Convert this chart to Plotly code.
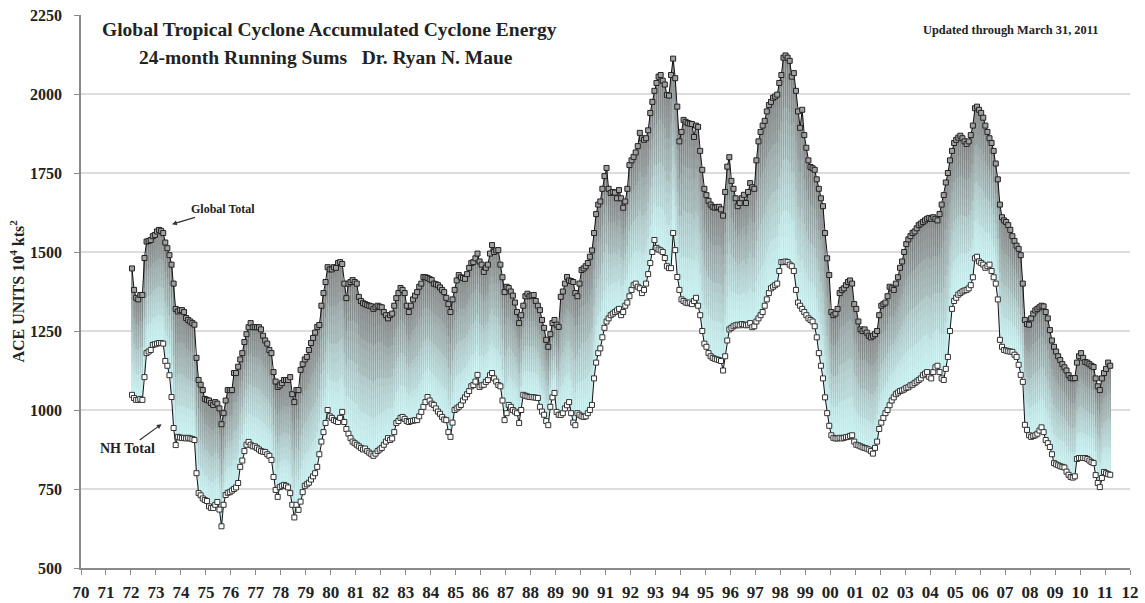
import plotly.graph_objects as go

# ---------------- data (monthly 24-month running sums, Jan 1972 .. Mar 2011) -------------
start_year = 1972

global_total = [
    # 1972
    1448, 1380, 1355, 1350, 1364, 1364, 1481, 1533, 1535, 1538, 1550, 1554,
    # 1973
    1565, 1570, 1567, 1560, 1530, 1512, 1490, 1460, 1400, 1320, 1312, 1316,
    # 1974
    1316, 1310, 1291, 1285, 1280, 1275, 1270, 1165, 1095, 1080, 1063, 1035,
    # 1975
    1032, 1030, 1022, 1016, 1025, 1020, 1005, 955, 990, 1030, 1063, 1063,
    # 1976
    1063, 1117, 1117, 1137, 1160, 1180, 1215, 1240, 1262, 1275, 1262, 1262,
    # 1977
    1262, 1262, 1255, 1235, 1220, 1210, 1190, 1180, 1120, 1090, 1073, 1078,
    # 1978
    1085, 1095, 1095, 1095, 1104, 1050, 1025, 1063, 1063, 1127, 1145, 1160,
    # 1979
    1168, 1190, 1212, 1228, 1245, 1263, 1269, 1330, 1370, 1405, 1452, 1445,
    # 1980
    1445, 1452, 1450, 1465, 1468, 1462, 1400, 1354, 1400, 1405, 1411, 1405,
    # 1981
    1400, 1358, 1345, 1338, 1335, 1332, 1330, 1328, 1320, 1325, 1330, 1327,
    # 1982
    1325, 1310, 1300, 1290, 1300, 1305, 1330, 1354, 1370, 1386, 1380, 1370,
    # 1983
    1330, 1310, 1330, 1350, 1362, 1373, 1390, 1400, 1421, 1420, 1418, 1414,
    # 1984
    1411, 1400, 1398, 1395, 1388, 1380, 1373, 1355, 1335, 1310, 1350, 1380,
    # 1985
    1410, 1427, 1420, 1418, 1415, 1430, 1450, 1465, 1468, 1480, 1495, 1470,
    # 1986
    1460, 1437, 1450, 1460, 1495, 1522, 1500, 1505, 1506, 1460, 1420, 1373,
    # 1987
    1390, 1386, 1375, 1362, 1340, 1310, 1275, 1300, 1330, 1360, 1368, 1360,
    # 1988
    1362, 1364, 1345, 1330, 1316, 1285, 1260, 1222, 1200, 1240, 1275, 1285,
    # 1989
    1270, 1263, 1358, 1375, 1400, 1421, 1410, 1408, 1405, 1370, 1360, 1400,
    # 1990
    1443, 1448, 1455, 1465, 1485, 1505, 1560, 1620, 1650, 1660, 1700, 1740,
    # 1991
    1766, 1700, 1687, 1690, 1688, 1670, 1696, 1670, 1640, 1660, 1700, 1775,
    # 1992
    1790, 1801, 1815, 1835, 1877, 1860, 1855, 1860, 1885, 1940, 1975, 2010,
    # 1993
    2035, 2055, 2060, 2042, 2030, 1997, 1995, 2060, 2112, 2050, 1960, 1850,
    # 1994
    1880, 1918, 1912, 1908, 1906, 1905, 1864, 1900, 1896, 1820, 1760, 1700,
    # 1995
    1680, 1662, 1650, 1643, 1640, 1642, 1643, 1635, 1615, 1690, 1770, 1800,
    # 1996
    1725, 1700, 1670, 1645, 1655, 1670, 1681, 1655, 1690, 1718, 1705, 1700,
    # 1997
    1790, 1850, 1880, 1900, 1915, 1945, 1965, 1975, 1988, 1992, 1998, 2035,
    # 1998
    2060, 2115, 2122, 2115, 2105, 2055, 2066, 2010, 1945, 1893, 1950, 1870,
    # 1999
    1830, 1790, 1769, 1765, 1760, 1730, 1700, 1670, 1645, 1560, 1480, 1427,
    # 2000
    1310, 1300, 1305, 1320, 1370, 1380, 1385, 1395, 1405, 1410, 1400, 1335,
    # 2001
    1320, 1280, 1255, 1250, 1255, 1245, 1235, 1230, 1235, 1240, 1250, 1300,
    # 2002
    1330, 1335, 1340, 1360, 1390, 1385, 1380, 1400, 1420, 1450, 1470, 1500,
    # 2003
    1525, 1540, 1550, 1560, 1565, 1575, 1585, 1590, 1595, 1600, 1605, 1608,
    # 2004
    1605, 1610, 1605, 1600, 1620, 1650, 1680, 1720, 1750, 1790, 1820, 1845,
    # 2005
    1855, 1862, 1868, 1860, 1850, 1842, 1850, 1870, 1900, 1955, 1960, 1950,
    # 2006
    1940, 1925, 1900, 1880, 1860, 1845, 1820, 1780, 1730, 1650, 1610, 1600,
    # 2007
    1595, 1585, 1570, 1550, 1535, 1520, 1510, 1490, 1400, 1285, 1272, 1270,
    # 2008
    1290, 1305, 1315, 1320, 1325, 1330, 1328, 1310, 1290, 1253, 1220, 1200,
    # 2009
    1185, 1170, 1158, 1145, 1135, 1125, 1110, 1101, 1100, 1101, 1150, 1170,
    # 2010
    1180, 1165, 1152, 1150, 1145, 1140, 1136, 1100, 1075, 1063, 1100, 1117,
    # 2011
    1130, 1150, 1140,
]

nh_total = [
    # 1972
    1048, 1038, 1032, 1032, 1035, 1032, 1104, 1180, 1185, 1190, 1206, 1208,
    # 1973
    1210, 1212, 1212, 1210, 1155, 1140, 1110, 1041, 943, 889, 915, 913,
    # 1974
    911, 912, 910, 912, 910, 908, 905, 800, 737, 730, 720, 715,
    # 1975
    712, 695, 690, 690, 700, 709, 685, 632, 700, 731, 738, 740,
    # 1976
    745, 750, 755, 769, 820, 840, 870, 890, 899, 890, 885, 885,
    # 1977
    880, 875, 870, 868, 867, 860, 855, 842, 788, 747, 725, 756,
    # 1978
    760, 763, 760, 755, 737, 700, 660, 700, 684, 710, 740, 760,
    # 1979
    765, 770, 780, 790, 800, 820, 860, 900, 930, 959, 1000, 980,
    # 1980
    975, 968, 965, 962, 975, 994, 962, 940, 925, 911, 900, 895,
    # 1981
    890, 885, 880, 875, 878, 870, 865, 860, 855, 862, 870, 875,
    # 1982
    880, 890, 900, 911, 905, 910, 930, 959, 965, 975, 978, 972,
    # 1983
    965, 962, 965, 966, 968, 968, 980, 994, 1010, 1025, 1041, 1030,
    # 1984
    1020, 1016, 1005, 995, 988, 978, 970, 968, 930, 915, 960, 1000,
    # 1985
    1005, 1010, 1016, 1030, 1040, 1050, 1060, 1075, 1079, 1090, 1111, 1073,
    # 1986
    1078, 1080, 1089, 1095, 1110, 1117, 1100, 1090, 1079, 1075, 1030, 968,
    # 1987
    990, 1016, 1010, 1000, 995, 990, 959, 1000, 1048, 1045, 1043, 1041,
    # 1988
    1041, 1040, 1039, 1038, 1010, 995, 985, 965, 952, 1010, 1040, 1054,
    # 1989
    994, 985, 984, 990, 1005, 1015, 1025, 990, 960, 952, 990, 985,
    # 1990
    980, 978, 980, 990, 1000, 1016, 1100, 1150, 1180, 1195, 1230, 1260,
    # 1991
    1280, 1290, 1300, 1305, 1310, 1315, 1320, 1300, 1310, 1330, 1340, 1360,
    # 1992
    1380, 1395, 1400, 1390, 1385, 1370, 1380, 1400, 1430, 1465, 1500, 1538,
    # 1993
    1513, 1508, 1505, 1500, 1481, 1455, 1449, 1449, 1560, 1506, 1421, 1380,
    # 1994
    1350, 1345, 1340, 1338, 1340, 1335, 1345, 1355, 1330, 1300, 1250, 1210,
    # 1995
    1200, 1180, 1170, 1165, 1162, 1160, 1158, 1155, 1125, 1170, 1220, 1255,
    # 1996
    1260, 1265, 1268, 1270, 1268, 1272, 1270, 1268, 1270, 1275, 1262, 1265,
    # 1997
    1280, 1290, 1300, 1310, 1330, 1350, 1370, 1385, 1390, 1395, 1400, 1440,
    # 1998
    1468, 1468, 1470, 1468, 1460, 1455, 1440, 1380, 1340, 1330, 1320, 1310,
    # 1999
    1300, 1290, 1285, 1280, 1265, 1230, 1180, 1140, 1100, 1040, 990, 950,
    # 2000
    920, 912, 910, 910, 912, 910, 912, 914, 915, 918, 920, 900,
    # 2001
    890, 888, 885, 882, 880, 878, 875, 870, 862, 880, 900, 940,
    # 2002
    960, 975, 990, 1000, 1015, 1030, 1040, 1050, 1055, 1060, 1062, 1065,
    # 2003
    1070, 1072, 1078, 1080, 1085, 1090, 1095, 1100, 1110, 1115, 1120, 1105,
    # 2004
    1100, 1120, 1135, 1140, 1120, 1100, 1095, 1130, 1168, 1250, 1320, 1345,
    # 2005
    1355, 1365, 1370, 1375, 1378, 1380, 1385, 1395, 1420, 1480, 1485, 1470,
    # 2006
    1465, 1460, 1450, 1455, 1460, 1440, 1420, 1400, 1350, 1222, 1200, 1190,
    # 2007
    1188, 1186, 1185, 1184, 1175, 1168, 1143, 1111, 1089, 953, 937, 920,
    # 2008
    915, 918, 920, 925, 935, 945, 930, 905, 895, 883, 860, 832,
    # 2009
    828, 825, 822, 820, 818, 805, 795, 788, 786, 790, 845, 848,
    # 2010
    848, 848, 848, 845, 840, 835, 832, 794, 769, 756, 785, 804,
    # 2011
    800, 797, 795,
]

tick_years = list(range(1970, 2013))
tick_labels = [f"{y % 100:02d}" for y in tick_years]
y_ticks = [500, 750, 1000, 1250, 1500, 1750, 2000, 2250]

# ---------------- figure -----------------------------------------------------------------
x = [start_year + i / 12 + 1 / 24 for i in range(len(global_total))]
diff = [g - n for g, n in zip(global_total, nh_total)]

SERIF = "Liberation Serif"
INK = "#222222"
fig = go.Figure()

# gradient "up/down bars": stacked segments from light cyan (bottom) to gray (top)
N = 16
c_bot = (208, 248, 248)
c_top = (158, 158, 158)
for k in range(N):
    t = (k + 0.5) / N
    t2 = t ** 1.3
    col = tuple(round(c_bot[j] + (c_top[j] - c_bot[j]) * t2) for j in range(3))
    fig.add_trace(go.Bar(
        x=x,
        base=[n + d * k / N for n, d in zip(nh_total, diff)],
        y=[d / N for d in diff],
        width=1 / 12,
        marker=dict(color=f"rgb{col}", line=dict(width=0)),
        hoverinfo="skip",
        showlegend=False,
    ))

# thin vertical drop lines between the two series, darker near the top
M = 4
alphas = [0.10, 0.20, 0.34, 0.50]
for k in range(M):
    lx, ly = [], []
    for xi, n, d in zip(x, nh_total, diff):
        lx += [xi, xi, None]
        ly += [n + d * k / M, n + d * (k + 1) / M, None]
    fig.add_trace(go.Scatter(
        x=lx, y=ly, mode="lines",
        line=dict(color=f"rgba(70,70,70,{alphas[k]})", width=0.8),
        hoverinfo="skip", showlegend=False,
    ))

fig.add_trace(go.Scatter(
    x=x, y=nh_total, mode="lines+markers", name="NH Total",
    line=dict(color="#111111", width=1),
    marker=dict(symbol="square", size=5, color="white",
                line=dict(color="#333333", width=1)),
    showlegend=False,
))
fig.add_trace(go.Scatter(
    x=x, y=global_total, mode="lines+markers", name="Global Total",
    line=dict(color="#111111", width=1),
    marker=dict(symbol="square", size=5, color="#a0a0a0",
                line=dict(color="#222222", width=1)),
    showlegend=False,
))

fig.update_layout(
    width=1145, height=603,
    margin=dict(l=81, r=15, t=15, b=35),
    paper_bgcolor="white", plot_bgcolor="white",
    barmode="overlay", bargap=0,
    font=dict(family=SERIF, color=INK),
    xaxis=dict(
        range=[1970, 2012], tickvals=tick_years, ticktext=tick_labels,
        automargin=False,
        showgrid=False, zeroline=False,
        showline=True, linecolor="#8a8a8a", linewidth=1.5,
        ticks="outside", ticklen=5, tickcolor="#8a8a8a",
        ticklabelstandoff=3,
        tickfont=dict(family=SERIF, size=17, weight="bold", color=INK),
    ),
    yaxis=dict(
        range=[500, 2250], tickvals=y_ticks,
        automargin=False,
        showgrid=True, gridcolor="#dddddd", gridwidth=1.5, zeroline=False,
        showline=True, linecolor="#8a8a8a", linewidth=1.5,
        ticks="outside", ticklen=5, tickcolor="#8a8a8a",
        ticklabelstandoff=9,
        tickfont=dict(family=SERIF, size=16, weight="bold", color=INK),
    ),
)

# y-axis title
fig.add_annotation(xref="paper", yref="paper", x=-0.061, y=0.5, xanchor="center", yanchor="middle",
                   textangle=-90, showarrow=False,
                   text="ACE UNITS 10<sup>4</sup> kts<sup>2</sup>",
                   font=dict(family=SERIF, size=16, weight="bold", color=INK))

fig.add_annotation(xref="paper", yref="paper", x=0.018, y=0.973, xanchor="left", yanchor="middle",
                   text="Global Tropical Cyclone Accumulated Cyclone Energy", showarrow=False,
                   font=dict(family=SERIF, size=19.5, weight="bold", color=INK))
fig.add_annotation(xref="paper", yref="paper", x=0.053, y=0.924, xanchor="left", yanchor="middle",
                   text="24-month Running Sums&nbsp;&nbsp;&nbsp;Dr. Ryan N. Maue", showarrow=False,
                   font=dict(family=SERIF, size=19.5, weight="bold", color=INK))
fig.add_annotation(xref="paper", yref="paper", x=0.971, y=0.973, xanchor="right", yanchor="middle",
                   text="Updated through March 31, 2011", showarrow=False,
                   font=dict(family=SERIF, size=12.4, weight="bold", color=INK))

# series labels with arrows pointing at the curves
fig.add_annotation(x=1973.57, y=1586, ax=53, ay=-16, text="Global Total", showarrow=True,
                   arrowhead=2, arrowsize=0.8, arrowwidth=1.2, arrowcolor="#333333",
                   standoff=2,
                   font=dict(family=SERIF, size=12, weight="bold", color=INK))
fig.add_annotation(x=1973.29, y=959, ax=-36, ay=26, text="NH Total", showarrow=True,
                   arrowhead=2, arrowsize=0.8, arrowwidth=1.2, arrowcolor="#333333",
                   standoff=2,
                   font=dict(family=SERIF, size=14, weight="bold", color=INK))

fig.write_html(
    "out.html",
    config={"displayModeBar": False},
    post_script="document.body.style.margin='0';document.body.style.padding='0';",
)
